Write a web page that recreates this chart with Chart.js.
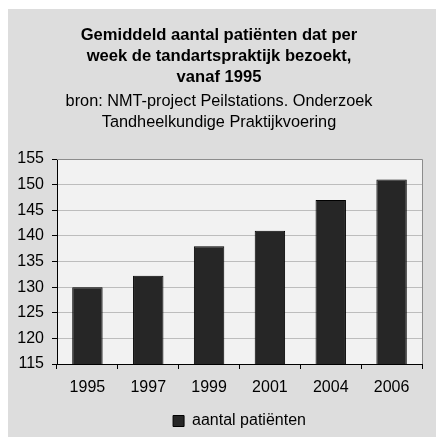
<!DOCTYPE html>
<html lang="nl">
<head>
<meta charset="utf-8">
<title>Gemiddeld aantal patiënten</title>
<script src="https://cdn.jsdelivr.net/npm/chart.js@4"></script>
<style>
    html, body { margin: 0; padding: 0; background: #fff; }
    #wrap { width: 436px; height: 437px; }
</style>
</head>
<body>
<div id="wrap"><canvas id="patientChart" width="436" height="437"></canvas></div>
<script>
// data
const years = ['1995', '1997', '1999', '2001', '2004', '2006'];
const patients = [130, 132.2, 138, 141, 147, 151];
const seriesName = 'aantal patiënten';
const titleLines = ['Gemiddeld aantal patiënten dat per', 'week de tandartspraktijk bezoekt,', 'vanaf 1995'];
const subtitleLines = ['bron: NMT-project Peilstations. Onderzoek', 'Tandheelkundige Praktijkvoering'];

const fontFamily = "'Liberation Sans', Arial, sans-serif";

// background, plot area and border
const framePlugin = {
    id: 'frame',
    beforeDraw(chart) {
        const ctx = chart.ctx;
        const area = chart.chartArea;
        ctx.save();
        ctx.fillStyle = '#ffffff';
        ctx.fillRect(0, 0, chart.width, chart.height);
        ctx.fillStyle = '#dddddd';
        ctx.fillRect(8, 9, chart.width - 8, chart.height - 9);
        ctx.fillStyle = '#f2f2f2';
        ctx.fillRect(area.left, area.top, area.right - area.left, area.bottom - area.top);
        ctx.restore();

        // legend centered under the plot area, titles a bit to the right
        if (chart.legend) {
            chart.legend.left = area.left;
            chart.legend.right = area.right;
        }
        chart.boxes.forEach(box => {
            if (box.position === 'top' && !box._shifted) {
                box.left += 3;
                box.right += 3;
                box._shifted = true;
            }
        });
    },
    afterDraw(chart) {
        const ctx = chart.ctx;
        const area = chart.chartArea;
        ctx.save();
        ctx.strokeStyle = '#8c8c8c';
        ctx.lineWidth = 1;
        ctx.beginPath();
        ctx.moveTo(area.left, Math.round(area.top) + 0.5);
        ctx.lineTo(Math.round(area.right) + 0.5, Math.round(area.top) + 0.5);
        ctx.lineTo(Math.round(area.right) + 0.5, area.bottom);
        ctx.stroke();
        ctx.restore();
    }
};

const ctx = document.getElementById('patientChart').getContext('2d');
const chart = new Chart(ctx, {
    type: 'bar',
    data: {
        labels: years,
        datasets: [{
            label: seriesName,
            data: patients,
            backgroundColor: '#262626',
            borderColor: '#000000',
            borderWidth: 1,
            barPercentage: 0.5,
            categoryPercentage: 1
        }]
    },
    options: {
        responsive: false,
        animation: false,
        devicePixelRatio: 1,
        layout: {
            padding: { left: 10, right: 14, top: 0, bottom: -2 }
        },
        scales: {
            x: {
                offset: true,
                grid: {
                    display: true,
                    offset: true,
                    drawOnChartArea: false,
                    drawTicks: true,
                    tickLength: 5,
                    tickColor: '#000000'
                },
                border: { color: '#000000', width: 1 },
                ticks: {
                    color: '#000000',
                    padding: 9,
                    maxRotation: 0,
                    font: { family: fontFamily, size: 16 }
                },
                afterFit(scale) {
                    scale.height = 43;
                }
            },
            y: {
                min: 115,
                max: 155,
                grid: {
                    color: '#bdbdbd',
                    tickColor: '#000000',
                    tickLength: 5
                },
                border: { color: '#000000', width: 1 },
                ticks: {
                    stepSize: 5,
                    color: '#000000',
                    padding: 8,
                    font: { family: fontFamily, size: 16 }
                },
                afterFit(scale) {
                    scale.width = 47;
                }
            }
        },
        plugins: {
            title: {
                display: true,
                text: titleLines,
                color: '#000000',
                font: { family: fontFamily, size: 16.6, weight: 'bold', lineHeight: 21 / 16.6 },
                padding: { top: 24.5, bottom: 3 }
            },
            subtitle: {
                display: true,
                text: subtitleLines,
                color: '#000000',
                font: { family: fontFamily, size: 16.3, lineHeight: 21 / 16.3 },
                padding: { top: 1, bottom: 25.5 }
            },
            legend: {
                position: 'bottom',
                labels: {
                    boxWidth: 11,
                    boxHeight: 11,
                    padding: 6,
                    color: '#000000',
                    font: { family: fontFamily, size: 16 }
                }
            },
            tooltip: { enabled: false }
        }
    },
    plugins: [framePlugin]
});
</script>
</body>
</html>
